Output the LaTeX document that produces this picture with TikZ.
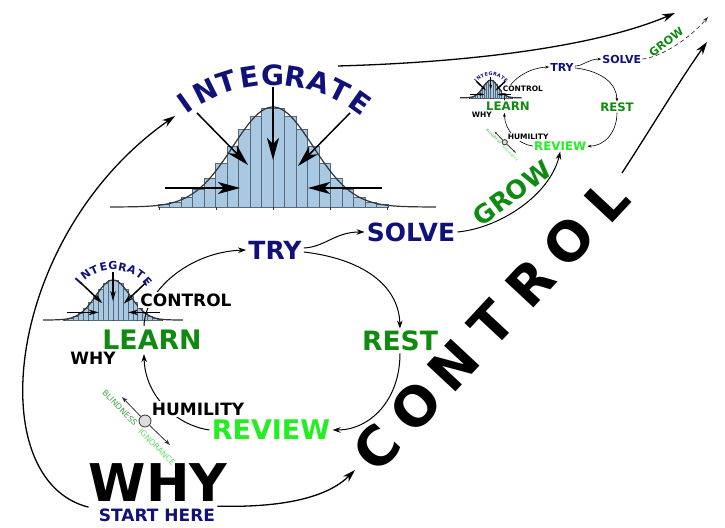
\documentclass[tikz,border=0pt]{standalone}
\usepackage{fontspec}
\setmainfont{DejaVu Sans}
\usetikzlibrary{arrows.meta,calc}
\definecolor{navyt}{HTML}{11117A}
\definecolor{greend}{HTML}{118A11}
\definecolor{greenl}{HTML}{22EE22}
\definecolor{blindc}{HTML}{3FA33F}
\definecolor{ignorc}{HTML}{5CE05C}
\definecolor{barfill}{HTML}{A9C8E2}
\definecolor{barline}{HTML}{56687A}
\definecolor{curvec}{HTML}{333333}
\definecolor{dotfill}{HTML}{DDDDDD}

\newcommand{\tipk}{1}
\newcommand{\cyclw}{0.5pt}

\tikzset{
  word/.style={font=\fontsize{#1}{#1}\selectfont\bfseries,inner sep=1pt},
  cyc/.style={line width=\cyclw,-{Stealth[length=4pt,width=2.8pt,scale=\tipk]}},
  longarrow/.style={line width=0.65pt,-{Stealth[length=6.5pt,width=4pt]}},
  bellarrow/.style={line width=0.75pt,-{Stealth[length=11pt,width=6pt,inset=3pt,scale=#1]}},
  axisline/.style={curvec,line width=0.4pt,-{Stealth[length=3pt,width=2pt,scale=\tipk]}},
}

% histogram + gaussian with the five inward arrows
\newcommand{\bellcurve}[5]{%
  \pgfmathsetmacro\bk{#5}%
  \begin{scope}[shift={(#1,#2)},xscale=#3,yscale=#4]
    \foreach \i in {-10,...,9}{
      \pgfmathsetmacro\barx{(\i+0.5)*11.5/40}
      \pgfmathsetmacro\barh{100*exp(-0.5*\barx*\barx)}
      \filldraw[fill=barfill,draw=barline,line width=0.25pt] ({\i*11.5},0) rectangle ({(\i+1)*11.5},\barh);
    }
    \draw[curvec,line width=0.6pt] plot[domain=-163:163,samples=100,smooth] (\x,{100*exp(-0.5*(\x/40)*(\x/40))});
    \foreach \tk in {-2,...,2}
      \draw[curvec,line width=0.4pt] ({\tk*57},0) -- ({\tk*57},-3);
    \foreach \xa/\ya/\xb/\yb in {-76/94/-25/42,0/120/0/47,77/94/25/41,-108/19/-33/19,109/19/35/19}
      \draw[bellarrow=\bk] (\xa,\ya) -- (\xb,\yb);
  \end{scope}}

% INTEGRATE set letter by letter on an arc
\newcommand{\arcword}[7]{%
  \foreach \ch [count=\k from 0] in {I,N,T,E,G,R,A,T,E}
    \node[font=\fontsize{#6}{#6}\selectfont\bfseries,text=navyt,inner sep=0pt,
          rotate={#4+\k*(#5)-90}] (#7\k) at ($(#1,#2)+({#4+\k*(#5)}:#3)$) {\ch};}

% the learn / try / rest / review loop
\newcommand{\loopcycle}{%
  \bellcurve{113}{-320}{0.43}{0.4}{0.45*\tipk}
  \arcword{113}{-312}{46}{138.5}{-12.125}{5.5}{ig}
  \node[word=12.5,text=navyt] (try) at (275,-250) {TRY};
  \node[word=12.5,text=navyt] (solve) at (411,-232) {SOLVE};
  \node[word=13.3,text=greend] (rest) at (400,-341) {REST};
  \node[word=13.4,text=greend] (learn) at (152,-340) {LEARN};
  \node[word=13.5,text=greenl] (review) at (271,-430) {REVIEW};
  \node[word=8.5] (why) at (93,-358) {WHY};
  \node[word=12.7,text=greend,rotate=37] (grow) at (512,-193) {GROW};
  \draw[cyc] ($(learn.north)+(-8,2)$) .. controls (145,-290) and (190,-252) .. (try.west);
  \draw[cyc] ($(try.east)+(0,-2)$) .. controls (370,-260) and (399,-290) .. (rest.north);
  \draw[cyc] ($(try.east)+(0,2)$) .. controls (325,-247) and (335,-232) .. (solve.west);
  \draw[cyc] (rest.south) .. controls (400,-400) and (370,-430) .. (review.east);
  \draw[cyc] (review.west) .. controls (175,-425) and (145,-395) .. ($(learn.south)+(-8,-2)$);
  \node[word=8.5,fill=white] (ctrl) at (186,-300) {CONTROL};
  \node[word=8.5,fill=white] (humility) at (198,-409) {HUMILITY};
  % blindness / ignorance axis
  \node[circle,draw=curvec,fill=dotfill,line width=0.4pt,minimum size=6pt,inner sep=0pt] (dot) at (145,-421) {};
  \coordinate (blindend) at (122,-397);
  \coordinate (ignorend) at (170,-445);
  \draw[axisline] (dot) -- (blindend);
  \draw[axisline] (dot) -- (ignorend);
  \node[font=\fontsize{4}{4}\selectfont,text=blindc,rotate=-45,inner sep=0pt] (blind) at ($(dot)+(-25,13)$) {BLINDNESS};
  \node[font=\fontsize{4}{4}\selectfont,text=ignorc,rotate=-45,inner sep=0pt] (ignor) at ($(dot)+(12,-26)$) {IGNORANCE};
}

\begin{document}
\begin{tikzpicture}[x=0.5pt,y=0.5pt]
  \useasboundingbox (0,0) rectangle (725,-528);
  % big bell
  \bellcurve{273}{-207}{1}{1}{1}
  \arcword{272.5}{-225.7}{150.7}{125.5}{-8.875}{14}{bi}
  % main loop
  \loopcycle
  % the same loop, small, top right
  \begin{scope}[shift={(441,43)},scale=0.44,transform shape,name prefix=s-]
    \renewcommand{\tipk}{0.5}\renewcommand{\cyclw}{0.3pt}
    \loopcycle
  \end{scope}
  \node[word=26] (bigwhy) at (158,-483) {WHY};
  \node[word=8.5,text=navyt] (start) at (157,-515) {START HERE};
  \foreach \ch [count=\k from 0] in {C,O,N,T,R,O,L}
    \node[font=\fontsize{27}{27}\selectfont\bfseries,inner sep=0pt,rotate=47] (ctl\k) at ({377+38.3*\k},{-448+41.3*\k}) {\ch};
  \coordinate (intip) at (175,-116);
  \coordinate (ctip) at (355,-470);
  \coordinate (topfrom) at (338,-66);
  \coordinate (toptip) at (675,-13);
  \coordinate (rightfrom) at (622,-173);
  \coordinate (righttip) at (707,-42);
  \coordinate (growtip) at (708,-17);
  \draw[longarrow] ($(start.north west)+(-8,-1)$) .. controls (-20,-480) and (5,-235) .. (intip);
  \draw[longarrow] (start.north east) .. controls (290,-508) and (330,-495) .. (ctip);
  \draw[longarrow] (topfrom) .. controls (480,-62) and (600,-45) .. (toptip);
  \draw[longarrow] (rightfrom) .. controls (650,-130) and (680,-80) .. (righttip);
  \draw[cyc] (solve.east) .. controls (500,-228) and (550,-195) .. (s-review.south);
  \draw[curvec,line width=0.35pt,dash pattern=on 2pt off 1.5pt,-{Stealth[length=3pt,width=2pt]}] (s-solve.east) .. controls (662,-57) and (690,-38) .. (growtip);
\end{tikzpicture}
\end{document}
